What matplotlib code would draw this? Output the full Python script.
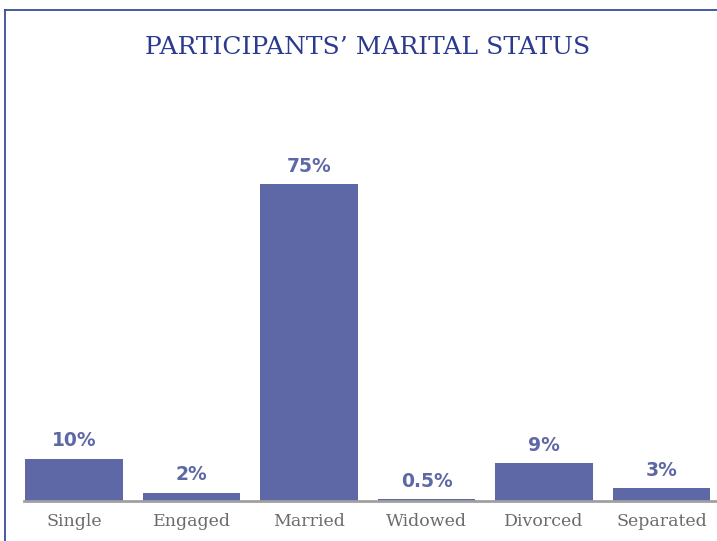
import matplotlib
matplotlib.use("Agg")
import matplotlib.pyplot as plt
from matplotlib.lines import Line2D

categories = ["Single", "Engaged", "Married", "Widowed", "Divorced", "Separated"]
values = [10, 2, 75, 0.5, 9, 3]
labels = ["10%", "2%", "75%", "0.5%", "9%", "3%"]

W, H = 717, 541
fig = plt.figure(figsize=(W/100, H/100), dpi=100)
fig.patch.set_facecolor("white")

# axes placement in pixels
ax_left, ax_right = 24, 717
base_y, top_y = 501, 163
ax = fig.add_axes([ax_left/W, (H-base_y)/H, (ax_right-ax_left)/W, (base_y-top_y)/H])
step = 117.5
c0 = 74
ax.set_xlim((ax_left-c0)/step, (ax_right-c0)/step)
ax.set_ylim(0, 80)

bar_color = "#5f68a6"
x = list(range(len(categories)))
bars = ax.bar(x, values, width=0.83, color=bar_color, zorder=2)
for xi, v, lab in zip(x, values, labels):
    ax.annotate(lab, (xi, v), xytext=(0, 6), textcoords="offset points",
                ha="center", va="bottom", fontsize=13.5, fontweight="heavy",
                color=bar_color, family="DejaVu Sans")

ax.set_xticks(x)
ax.set_xticklabels(categories, family="DejaVu Serif", fontsize=12.5, color="#6b6b6b")
ax.tick_params(axis="x", length=0, pad=9)
ax.set_yticks([])
for s in ["top", "right", "left"]:
    ax.spines[s].set_visible(False)
ax.spines["bottom"].set_color("#a0a0a0")
ax.spines["bottom"].set_linewidth(2)
ax.set_facecolor("none")

fig.text(368/W, 1-47/H, "PARTICIPANTS\u2019 MARITAL STATUS", ha="center", va="center",
         fontsize=18, color="#2b3a8f", family="DejaVu Serif")

# frame lines
border = "#3a4c9c"
fig.add_artist(Line2D([4.5/W, 4.5/W], [0, 1-10/H], color=border, lw=1.3, transform=fig.transFigure))
fig.add_artist(Line2D([4.5/W, 1], [1-10/H, 1-10/H], color=border, lw=1.3, transform=fig.transFigure))

fig.savefig("out.png", dpi=100, facecolor="white")
